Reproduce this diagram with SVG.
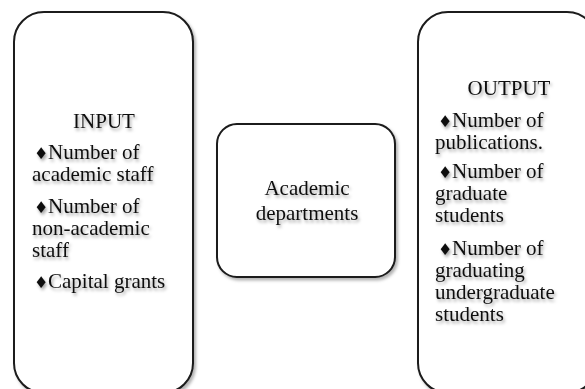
<svg xmlns="http://www.w3.org/2000/svg" width="585" height="389" viewBox="0 0 585 389">
<defs>
<filter id="sh" x="-10%" y="-10%" width="130%" height="130%">
<feDropShadow dx="2" dy="2.5" stdDeviation="1.6" flood-color="#000" flood-opacity="0.3"/>
</filter>
<filter id="tsh" x="-10%" y="-20%" width="130%" height="150%">
<feDropShadow dx="1.5" dy="2.5" stdDeviation="1.5" flood-color="#000" flood-opacity="0.35"/>
</filter>
</defs>
<style>
.box{fill:#fff;stroke:#1a1a1a;stroke-width:2;filter:url(#sh)}
.t{font-family:"Liberation Serif","Times New Roman",serif;font-size:21px;fill:#111;filter:url(#tsh)}
.c{text-anchor:middle}
.b{font-family:"DejaVu Sans",sans-serif;font-size:16px}
</style>
<rect width="585" height="389" fill="#fff"/>
<g id="connectors"></g>
<g id="input">
<rect class="box" x="14" y="12" width="179" height="381" rx="30" ry="30"/>
<text class="t c" x="104" y="128">INPUT</text>
<text class="t"><tspan class="b" x="34" y="159">♦</tspan><tspan x="48" y="159">Number of</tspan><tspan x="32" y="181">academic staff</tspan></text>
<text class="t"><tspan class="b" x="34" y="213">♦</tspan><tspan x="48" y="213">Number of</tspan><tspan x="32" y="235">non-academic</tspan><tspan x="32" y="257">staff</tspan></text>
<text class="t"><tspan class="b" x="34" y="288">♦</tspan><tspan x="48" y="288">Capital grants</tspan></text>
</g>
<g id="process">
<rect class="box" x="217" y="124" width="178" height="153" rx="20" ry="20"/>
<text class="t c" x="307" y="195">Academic</text>
<text class="t c" x="307" y="220">departments</text>
</g>
<g id="output">
<rect class="box" x="418" y="12" width="179" height="381" rx="30" ry="30"/>
<text class="t c" x="509" y="95">OUTPUT</text>
<text class="t"><tspan class="b" x="438" y="127">♦</tspan><tspan x="452" y="127">Number of</tspan><tspan x="435" y="149">publications.</tspan></text>
<text class="t"><tspan class="b" x="438" y="178">♦</tspan><tspan x="452" y="178">Number of</tspan><tspan x="435" y="200">graduate</tspan><tspan x="435" y="222">students</tspan></text>
<text class="t"><tspan class="b" x="438" y="255">♦</tspan><tspan x="452" y="255">Number of</tspan><tspan x="435" y="277">graduating</tspan><tspan x="435" y="299">undergraduate</tspan><tspan x="435" y="321">students</tspan></text>
</g>
</svg>
